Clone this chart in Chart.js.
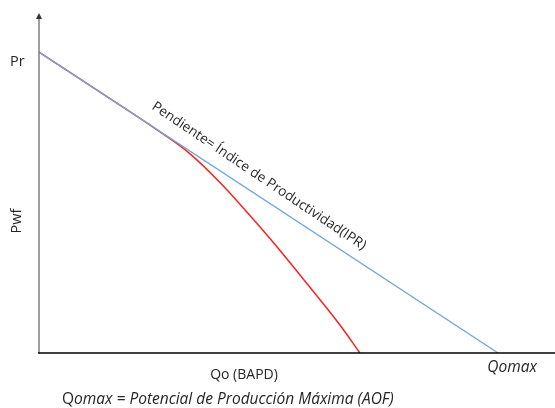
<!DOCTYPE html>
<html>
<head>
<meta charset="utf-8">
<script src="https://cdn.jsdelivr.net/npm/chart.js@4"></script>
<style>
html,body{margin:0;padding:0;background:#fff;}
#wrap{width:555px;height:408px;}
</style>
</head>
<body>
<div id="wrap"><canvas id="c" width="555" height="408"></canvas></div>
<script>
// Data (arbitrary units: Qomax = 100, Pr = 100)
const iprX = [0, 100];
const iprY = [100, 0];
const vogelX = [0, 13.3, 24.2, 32.9, 40.1, 46.0, 51.0, 58.4, 65.6, 69.9];
const vogelY = [100, 86.7, 75.7, 66.2, 55.6, 45.6, 36.8, 23.0, 9.2, 0];
const labelPr = 'Pr';
const labelPwf = 'Pwf';
const labelQo = 'Qo (BAPD)';
const labelQomax = 'Qomax';
const slopeText = 'Pendiente= Índice de Productividad(IPR)';
const footerText = 'omax = Potencial de Producción Máxima (AOF)';

const FONT = '"Open Sans", "Noto Sans", sans-serif';

const decor = {
  id: 'decor',
  afterDatasetsDraw(chart) {
    const {ctx, chartArea: a, scales: {x, y}} = chart;
    ctx.save();
    // y axis
    ctx.strokeStyle = '#7f7f7f';
    ctx.lineWidth = 1.5;
    ctx.beginPath();
    ctx.moveTo(a.left, a.bottom);
    ctx.lineTo(a.left, a.top + 4);
    ctx.stroke();
    ctx.fillStyle = '#333';
    ctx.beginPath();
    ctx.moveTo(a.left, a.top);
    ctx.lineTo(a.left - 3, a.top + 6);
    ctx.lineTo(a.left + 3, a.top + 6);
    ctx.closePath();
    ctx.fill();
    // x axis
    ctx.strokeStyle = '#000';
    ctx.lineWidth = 1.5;
    ctx.beginPath();
    ctx.moveTo(a.left - 1, a.bottom);
    ctx.lineTo(a.right, a.bottom);
    ctx.stroke();

    ctx.fillStyle = '#262626';
    ctx.textBaseline = 'middle';
    // Pr
    ctx.font = '14.5px ' + FONT;
    ctx.textAlign = 'left';
    ctx.fillText(labelPr, 10, y.getPixelForValue(iprY[0]) + 10);
    // Pwf
    ctx.save();
    ctx.translate(17, 221);
    ctx.rotate(-Math.PI / 2);
    ctx.textAlign = 'center';
    ctx.fillText(labelPwf, 0, 0);
    ctx.restore();
    // Qo
    ctx.textAlign = 'center';
    ctx.font = '14px ' + FONT;
    ctx.fillText(labelQo, 244, a.bottom + 22);
    // Qomax
    ctx.font = 'italic 15.5px ' + FONT;
    ctx.fillText(labelQomax, x.getPixelForValue(iprX[1]) + 14, a.bottom + 15);
    // footer
    ctx.textAlign = 'left';
    ctx.font = '15.5px ' + FONT;
    const qW = ctx.measureText('Q').width;
    ctx.fillText('Q', 62, a.bottom + 47);
    ctx.font = 'italic 15.5px ' + FONT;
    ctx.fillText(footerText, 62 + qW, a.bottom + 47);
    // slope text
    const x0 = x.getPixelForValue(iprX[0]), y0 = y.getPixelForValue(iprY[0]);
    const x1 = x.getPixelForValue(iprX[1]), y1 = y.getPixelForValue(iprY[1]);
    const ang = Math.atan2(y1 - y0, x1 - x0) + 0.01;
    const cx = x.getPixelForValue(47.9), cy = y.getPixelForValue(58.8);
    ctx.save();
    ctx.translate(cx, cy);
    ctx.rotate(ang);
    ctx.textAlign = 'center';
    ctx.font = '13.7px ' + FONT;
    ctx.fillText(slopeText, 0, 0);
    ctx.restore();
    ctx.restore();
  }
};

new Chart(document.getElementById('c'), {
  type: 'scatter',
  data: {
    datasets: [
      {
        data: iprX.map((v, i) => ({x: v, y: iprY[i]})),
        showLine: true,
        borderColor: '#72a7da',
        borderWidth: 1.3,
        pointRadius: 0,
        fill: false
      },
      {
        data: vogelX.map((v, i) => ({x: v, y: vogelY[i]})),
        showLine: true,
        borderColor: '#ff2020',
        borderWidth: 1.5,
        pointRadius: 0,
        cubicInterpolationMode: 'monotone',
        fill: false
      }
    ]
  },
  options: {
    responsive: false,
    animation: false,
    devicePixelRatio: 1,
    layout: {padding: {left: 39, right: 0, top: 13, bottom: 55}},
    plugins: {legend: {display: false}, tooltip: {enabled: false}},
    scales: {
      x: {type: 'linear', display: false, min: 0, max: 112.4},
      y: {type: 'linear', display: false, min: 0, max: 113.0}
    }
  },
  plugins: [decor]
});
</script>
</body>
</html>
